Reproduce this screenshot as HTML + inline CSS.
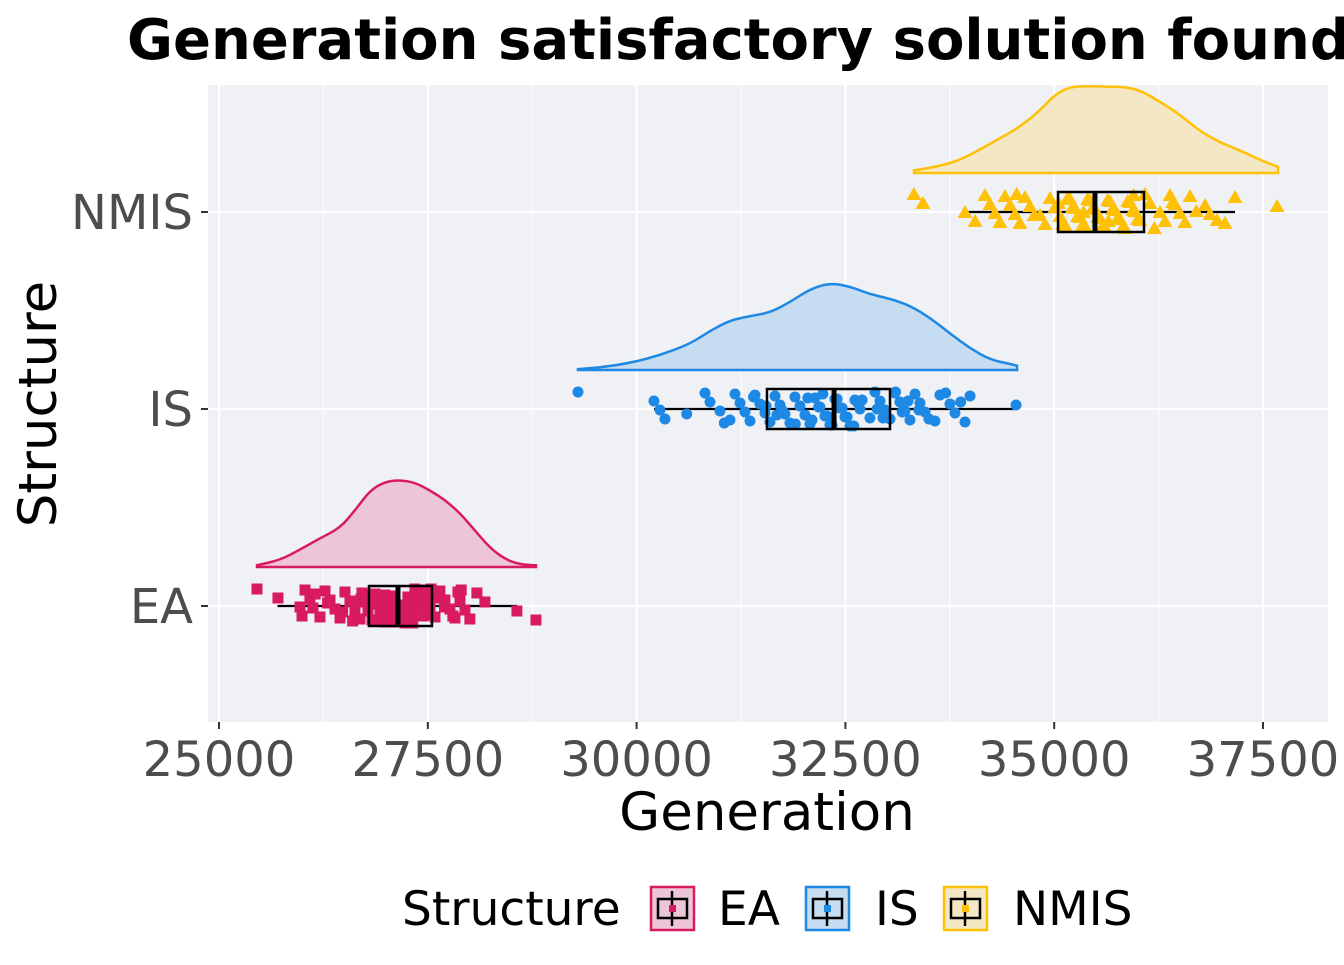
<!DOCTYPE html>
<html><head><meta charset="utf-8"><style>
body{margin:0;background:#fff;}
svg text{font-family:"DejaVu Sans","Liberation Sans",sans-serif;}
</style></head><body>
<svg id="c" width="1344" height="960" xmlns="http://www.w3.org/2000/svg">
<text x="127" y="59" font-size="56" font-weight="bold" fill="#000">Generation satisfactory solution found</text>
<rect x="208" y="85" width="1120" height="637" fill="#eff1f5"/>
<g id="grid"></g>
<g id="marks"></g>
<g id="axes"></g>
<text x="767" y="830" font-size="53" text-anchor="middle">Generation</text>
<text transform="translate(56,404) rotate(-90)" font-size="53" text-anchor="middle">Structure</text>
<g id="legend"></g>
</svg>
<script>
const groups=["EA","IS","NMIS"];
const colors=["#d81b60","#1e88e5","#ffc107"];
const fills=["#ecc6d7","#c5dcf1","#f4e8c4"];
const xTicks=[25000,27500,30000,32500,35000,37500];
const eaPts=[25455,25706,25970,25994,26030,26089,26125,26209,26269,26329,26389,26449,26508,26568,26628,26688,26712,26748,26784,26832,26868,26904,26927,26963,26987,27023,27047,27083,27107,27167,27203,27227,27262,27286,27310,27346,27382,27406,27442,27466,27502,27526,27586,27645,27705,27765,27825,27861,27885,27945,28004,28088,28184,28567,28795,26150,26300,26480,26600,26820,26880,26950,27000,27060,27120,27250,27320,27360,27420,27480,27540,27620,27700,27800,27900,26700,26990,27150,27380,27450];
const isPts=[29298,30208,30280,30340,30819,30879,30998,31118,31178,31238,31298,31358,31417,31477,31537,31597,31657,31717,31776,31836,31896,31956,32016,32076,32136,32195,32255,32315,32375,32435,32495,32555,32614,32674,32794,32854,32914,32974,33034,33093,33153,33213,33273,33333,33393,33453,33572,33632,33752,33812,33932,33992,34543,30600,31050,31400,31550,31680,31900,32050,32180,32280,32340,32400,32460,32520,32600,32700,32880,32950,33100,33250,33380,33500,33700,33880,31750,32100,32230,32650,33180];
const nmisPts=[33321,33429,33932,34052,34171,34231,34291,34351,34411,34471,34531,34590,34650,34710,34830,34890,34950,35009,35069,35129,35189,35249,35309,35369,35429,35488,35548,35608,35668,35728,35788,35848,35908,35967,36027,36087,36147,36267,36327,36387,36446,36506,36566,36626,36806,36866,37045,37165,37668,34760,35100,35160,35220,35280,35340,35400,35460,35520,35580,35640,35700,35760,35820,35880,35940,36000,36200,36420,36700,36950,34550,35050,35350,35650,35950];
const eaBox=[25700,26796,27143,27550,28570];
const isBox=[30208,31561,32364,33034,34543];
const nmisBox=[33932,35046,35488,36075,37165];
const eaDensX=[25455,25730,25970,26209,26449,26628,26808,26988,27167,27347,27526,27706,27885,28065,28245,28424,28604,28796];
const eaDensY=[0.02,0.08,0.2,0.33,0.45,0.65,0.88,0.98,1.0,0.97,0.88,0.77,0.62,0.42,0.22,0.09,0.03,0.02];
const isDensX=[29298,29562,29921,30280,30639,30879,31118,31358,31597,31836,32076,32315,32555,32794,33034,33273,33513,33752,33992,34231,34471,34555];
const isDensY=[0.01,0.03,0.08,0.17,0.30,0.45,0.57,0.62,0.66,0.78,0.93,1.0,0.96,0.87,0.82,0.74,0.60,0.42,0.25,0.12,0.07,0.05];
const nmisDensX=[33321,33632,33872,34111,34351,34590,34830,35009,35189,35429,35668,35848,36027,36267,36506,36746,36985,37225,37464,37680];
const nmisDensY=[0.03,0.08,0.15,0.27,0.40,0.53,0.72,0.9,0.99,1.0,0.99,0.99,0.95,0.82,0.67,0.48,0.35,0.26,0.15,0.07];

const NS="http://www.w3.org/2000/svg";
const X=v=>219+(v-25000)*1044/12500;
const Y=i=>606-i*197;
function mk(t,a,p){const e=document.createElementNS(NS,t);for(const k in a)e.setAttribute(k,a[k]);p.appendChild(e);return e;}
const grid=document.getElementById('grid'),marks=document.getElementById('marks'),axes=document.getElementById('axes'),legend=document.getElementById('legend');
for(let i=0;i<xTicks.length-1;i++){const m=(xTicks[i]+xTicks[i+1])/2;const g=mk('line',{x1:X(m),x2:X(m),y1:85,y2:722,stroke:'#fff','stroke-width':1},grid);

}
xTicks.forEach(t=>{const g=mk('line',{x1:X(t),x2:X(t),y1:85,y2:722,stroke:'#fff','stroke-width':2.2},grid);


const k=mk('line',{x1:X(t),x2:X(t),y1:722,y2:729,stroke:'#333','stroke-width':2},axes);


const l=mk('text',{x:X(t),y:776,'font-size':48,'text-anchor':'middle',fill:'#4d4d4d'},axes);l.textContent=t;

});
groups.forEach((g,i)=>{const gl=mk('line',{x1:208,x2:1328,y1:Y(i),y2:Y(i),stroke:'#fff','stroke-width':2.2},grid);


const k=mk('line',{x1:201,x2:208,y1:Y(i),y2:Y(i),stroke:'#333','stroke-width':2},axes);


const l=mk('text',{x:193,y:Y(i)+17,'font-size':48,'text-anchor':'end',fill:'#4d4d4d'},axes);l.textContent=g;

});
const pts=[eaPts,isPts,nmisPts],boxes=[eaBox,isBox,nmisBox],dX=[eaDensX,isDensX,nmisDensX],dY=[eaDensY,isDensY,nmisDensY];
groups.forEach((g,i)=>{
 const base=Y(i)-39,h=87;
 const P=dX[i].map((v,j)=>[X(v),base-dY[i][j]*h]);
 let d='M'+P[0][0]+','+base+' L'+P[0][0]+','+P[0][1];
 for(let j=1;j<P.length;j++){const mx=(P[j-1][0]+P[j][0])/2,my=(P[j-1][1]+P[j][1])/2;d+=' Q'+P[j-1][0]+','+P[j-1][1]+' '+mx+','+my;}
 d+=' L'+P[P.length-1][0]+','+P[P.length-1][1]+' L'+P[P.length-1][0]+','+base+' Z';
 const p=mk('path',{d:d,fill:fills[i],stroke:colors[i],'stroke-width':2.5},marks);
 
 
 const b=boxes[i],cy=Y(i);
 const w=mk('line',{x1:X(b[0]),x2:X(b[4]),y1:cy,y2:cy,stroke:'#000','stroke-width':2.2},marks);
 
 
 pts[i].forEach((v,j)=>{const jy=cy+(((j*7919)%35)-17);const x=X(v);let e;
  if(i==0)e=mk('rect',{x:x-5.5,y:jy-5.5,width:11,height:11,fill:colors[i]},marks);
  else if(i==1)e=mk('circle',{cx:x,cy:jy,r:5.5,fill:colors[i]},marks);
  else e=mk('polygon',{points:`${x},${jy-8} ${x-7.5},${jy+5} ${x+7.5},${jy+5}`,fill:colors[i]},marks);
  
  });
 const r=mk('rect',{x:X(b[1]),y:cy-20,width:X(b[3])-X(b[1]),height:40,fill:'none',stroke:'#000','stroke-width':2.5},marks);
 
 
 const m=mk('line',{x1:X(b[2]),x2:X(b[2]),y1:cy-20,y2:cy+20,stroke:'#000','stroke-width':5},marks);
 
 
});
const lt=mk('text',{x:402,y:925,'font-size':47},legend);lt.textContent='Structure';


const lx=[650,805,943],tx=[718,875,1013];
groups.forEach((g,i)=>{
 const k=mk('rect',{x:lx[i]+1,y:887,width:43,height:43,fill:fills[i],stroke:colors[i],'stroke-width':2.5},legend);
 
 
 const r=mk('rect',{x:lx[i]+8,y:899,width:29,height:19,fill:'none',stroke:'#000','stroke-width':2.5},legend);
 
 
 const l=mk('line',{x1:lx[i]+22,x2:lx[i]+22,y1:891,y2:926,stroke:'#000','stroke-width':2.5},legend);
 
 
 const dot=mk('rect',{x:lx[i]+19,y:905,width:7,height:7,fill:colors[i]},legend);
 
 
 const t=mk('text',{x:tx[i],y:925,'font-size':47},legend);t.textContent=g;
 
 
});
</script>
</body></html>
